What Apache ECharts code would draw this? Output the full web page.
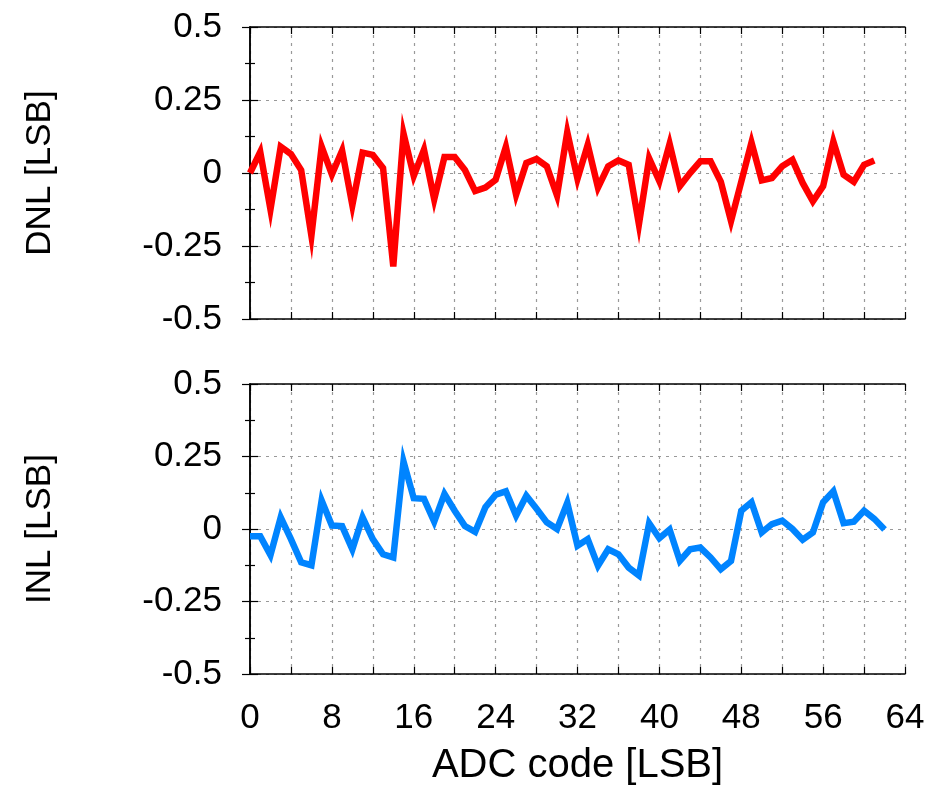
<!DOCTYPE html>
<html>
<head>
<meta charset="utf-8">
<script src="https://cdn.jsdelivr.net/npm/echarts@6/dist/echarts.min.js"></script>
<style>
html,body{margin:0;padding:0;background:#fff;}
#chart{width:936px;height:791px;}
</style>
</head>
<body>
<div id="chart"></div>
<script>
// ---- data ----
const dnlValues = [0.0, 0.072, -0.125, 0.09, 0.065, 0.01, -0.215, 0.09, -0.005, 0.077,
  -0.11, 0.07, 0.062, 0.017, -0.32, 0.135, -0.01, 0.08, -0.09, 0.055,
  0.055, 0.01, -0.062, -0.05, -0.023, 0.09, -0.074, 0.034, 0.048, 0.023,
  -0.077, 0.14, -0.02, 0.097, -0.05, 0.023, 0.043, 0.028, -0.176, 0.05,
  -0.028, 0.1, -0.045, 0.0, 0.04, 0.04, -0.03, -0.165, -0.03, 0.105,
  -0.025, -0.017, 0.023, 0.045, -0.034, -0.097, -0.045, 0.108, -0.006, -0.03,
  0.028, 0.043];
const inlValues = [-0.025, -0.025, -0.09, 0.04, -0.035, -0.115, -0.125, 0.098, 0.012, 0.01,
  -0.07, 0.04, -0.035, -0.087, -0.098, 0.233, 0.106, 0.104, 0.025, 0.121,
  0.063, 0.01, -0.01, 0.075, 0.118, 0.13, 0.046, 0.115, 0.07, 0.023,
  0.0, 0.09, -0.058, -0.035, -0.127, -0.07, -0.087, -0.133, -0.16, 0.02,
  -0.032, -0.002, -0.11, -0.07, -0.064, -0.098, -0.139, -0.11, 0.063, 0.092,
  -0.012, 0.017, 0.029, 0.0, -0.037, -0.012, 0.092, 0.13, 0.02, 0.025,
  0.063, 0.035, -0.002];
const xTickLabels = ['0', '8', '16', '24', '32', '40', '48', '56', '64'];
const yTickLabels = ['-0.5', '-0.25', '0', '0.25', '0.5'];
const xAxisTitle = 'ADC code [LSB]';
const dnlTitle = 'DNL [LSB]';
const inlTitle = 'INL [LSB]';

// ---- chart ----
const FONT = '"Liberation Sans", Arial, sans-serif';
const gridLine = {show: true, lineStyle: {color: '#999999', width: 1.2, type: [3, 5]}};

function xAx(gridIndex, showLabels, pos) {
  return {
    type: 'value', gridIndex: gridIndex, position: pos, min: 0, max: 64, interval: 4,
    axisLine: {show: true, onZero: false, lineStyle: {color: '#000', width: 1.5}},
    axisTick: {show: true, inside: true, length: 7, lineStyle: {color: '#000', width: 1.2}},
    axisLabel: {
      show: showLabels, margin: 27, color: '#000', fontSize: 35, fontFamily: FONT,
      formatter: function (v) { const s = String(v); return xTickLabels.indexOf(s) >= 0 ? s : ''; }
    },
    splitLine: pos === 'bottom' ? gridLine : {show: false},
    name: (showLabels ? xAxisTitle : ''), nameLocation: 'middle', nameGap: 72,
    nameTextStyle: {color: '#000', fontSize: 40, fontFamily: FONT}
  };
}
function yAx(gridIndex, showLabels, pos, title) {
  return {
    type: 'value', gridIndex: gridIndex, position: pos, min: -0.5, max: 0.5, interval: 0.25,
    axisLine: {show: true, lineStyle: {color: '#000', width: 1.5}},
    axisTick: {show: true, inside: true, length: 8, lineStyle: {color: '#000', width: 1.2}},
    minorTick: {show: true, splitNumber: 2, length: 5, lineStyle: {color: '#000', width: 1.2}},
    axisLabel: {
      show: showLabels, margin: 28, color: '#000', fontSize: 35, fontFamily: FONT,
      formatter: function (v) { const s = String(Math.round(v * 100) / 100); return yTickLabels.indexOf(s) >= 0 ? s : ''; }
    },
    splitLine: pos === 'left' ? gridLine : {show: false},
    name: title || '', nameLocation: 'middle', nameRotate: 90, nameGap: 192,
    nameTextStyle: {color: '#000', fontSize: 35, fontFamily: FONT}
  };
}

const option = {
  backgroundColor: '#fff',
  animation: false,
  grid: [
    {left: 250, right: 31, top: 27, height: 292, show: false},
    {left: 250, right: 31, top: 384, height: 290, show: false}
  ],
  xAxis: [
    xAx(0, false, 'bottom'), xAx(0, false, 'top'),
    xAx(1, true, 'bottom'), xAx(1, false, 'top')
  ],
  yAxis: [
    yAx(0, true, 'left', dnlTitle), yAx(0, false, 'right'),
    yAx(1, true, 'left', inlTitle), yAx(1, false, 'right')
  ],
  series: [
    {
      type: 'line', xAxisIndex: 0, yAxisIndex: 0, showSymbol: false, symbol: 'none',
      lineStyle: {color: '#ff0000', width: 6.5, join: 'miter'},
      data: dnlValues.map(function (v, i) { return [i, v]; })
    },
    {
      type: 'line', xAxisIndex: 2, yAxisIndex: 2, showSymbol: false, symbol: 'none',
      lineStyle: {color: '#0084ff', width: 6.5, join: 'miter'},
      data: inlValues.map(function (v, i) { return [i, v]; })
    }
  ]
};
const chart = echarts.init(document.getElementById('chart'), null, {renderer: 'canvas'});
chart.setOption(option);
</script>
</body>
</html>
